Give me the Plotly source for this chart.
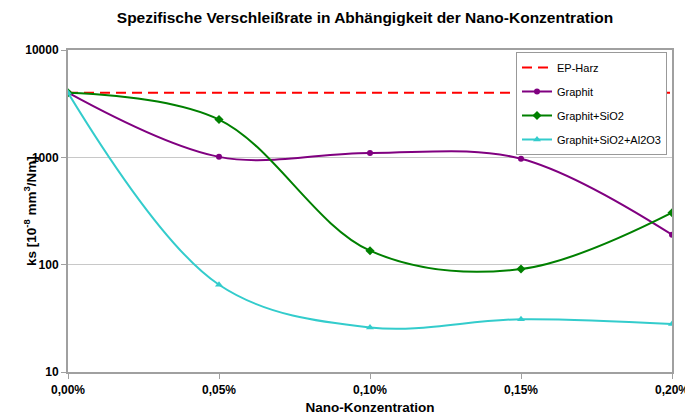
import plotly.graph_objects as go

x_vals = [0.0, 0.05, 0.10, 0.15, 0.20]
x_ticktext = ["0,00%", "0,05%", "0,10%", "0,15%", "0,20%"]
ep_harz = [4000, 4000, 4000, 4000, 4000]
graphit = [4000, 1010, 1100, 970, 190]
graphit_sio2 = [4000, 2250, 135, 91, 305]
graphit_sio2_al2o3 = [4000, 65, 26, 31, 28]
y_tickvals = [10, 100, 1000, 10000]
y_ticktext = ["10", "100", "1000", "10000"]

FONT = "Arial, 'Liberation Sans', sans-serif"

W, H = 685, 419
L, R, T, B = 68, 13, 50, 47
PW = W - L - R
PH = H - T - B

fig = go.Figure()
fig.add_trace(go.Scatter(x=x_vals, y=ep_harz, name="EP-Harz", mode="lines",
                         line=dict(color="#FF0000", width=2, dash="10px,6px"),
                         legendgroup="a"))
fig.add_trace(go.Scatter(x=x_vals, y=graphit, name="Graphit", mode="lines+markers",
                         line=dict(color="#800080", width=2, shape="spline", smoothing=1),
                         marker=dict(symbol="circle", size=6, color="#800080"),
                         legendgroup="b"))
fig.add_trace(go.Scatter(x=x_vals, y=graphit_sio2, name="Graphit+SiO2", mode="lines+markers",
                         line=dict(color="#008000", width=2, shape="spline", smoothing=1),
                         marker=dict(symbol="diamond", size=7, color="#008000"),
                         legendgroup="c"))
fig.add_trace(go.Scatter(x=x_vals, y=graphit_sio2_al2o3, name="Graphit+SiO2+Al2O3", mode="lines+markers",
                         line=dict(color="#33CCCC", width=2, shape="spline", smoothing=1),
                         marker=dict(symbol="triangle-up", size=7, color="#33CCCC"),
                         legendgroup="d"))

fig.update_layout(
    width=W, height=H,
    margin=dict(l=L, r=R, t=T, b=B, autoexpand=False),
    paper_bgcolor="white", plot_bgcolor="white",
    font=dict(family=FONT, color="black", size=11),
    title=dict(text="Spezifische Verschleißrate in Abhängigkeit der Nano-Konzentration",
               font=dict(size=15.5, weight="bold"), xref="paper", x=(365 - L) / PW, xanchor="center",
               yref="container", y=1 - 18 / H, yanchor="middle", automargin=False),
    showlegend=True,
    legend=dict(x=(667 - L) / PW, xanchor="right", y=0.9938, yanchor="top",
                bgcolor="white", bordercolor="#999999", borderwidth=1,
                font=dict(size=11), itemwidth=30, tracegroupgap=5,
                traceorder="grouped"),
    xaxis=dict(range=[0, 0.2], tickvals=x_vals, ticktext=x_ticktext,
               automargin=False,
               showgrid=False, zeroline=False,
               showline=True, linecolor="#A0A0A0", linewidth=2, mirror=True,
               ticks="outside", ticklen=5, tickcolor="#A0A0A0",
               ticklabeloverflow="allow", ticklabelstandoff=1,
               tickfont=dict(size=12, weight="bold"),
               title=dict(text="Nano-Konzentration", font=dict(size=13.5, weight="bold"), standoff=6)),
    yaxis=dict(type="log", range=[1, 4], tickvals=y_tickvals, ticktext=y_ticktext,
               automargin=False,
               showgrid=True, gridcolor="#C8C8C8", gridwidth=1, zeroline=False,
               showline=True, linecolor="#A0A0A0", linewidth=2, mirror=True,
               ticks="outside", ticklen=5, tickcolor="#A0A0A0",
               tickfont=dict(size=12, weight="bold")),
    annotations=[
        dict(text="ks [10<sup>-8</sup> mm<sup>3</sup>/Nm]", textangle=-90,
             xref="paper", yref="paper", x=(30 - L) / PW, y=0.5,
             xanchor="center", yanchor="middle", showarrow=False,
             font=dict(size=13.5, weight="bold")),
    ],
)

POST = (
    "var g=document.querySelector('.plotly-graph-div');"
    "g.style.overflow='hidden';"
    "var p=g.parentElement;p.style.height='419px';p.style.overflow='hidden';"
    "document.body.style.margin='0';document.body.style.overflow='hidden';"
    "document.body.style.height='419px';"
)

fig.write_html("out.html", config={"displayModeBar": False}, post_script=POST)
